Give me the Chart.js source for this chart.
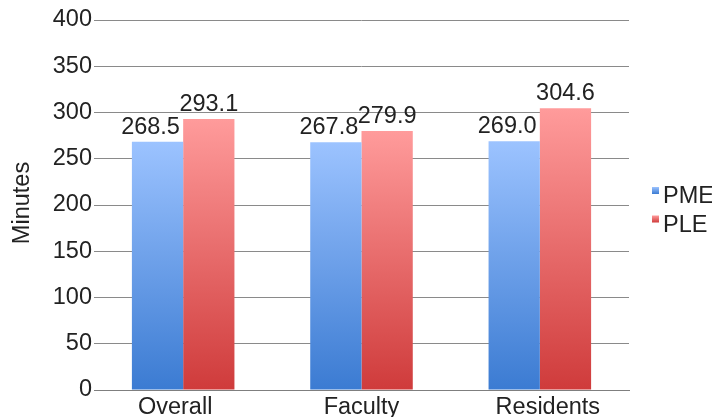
<!DOCTYPE html>
<html>
<head>
<meta charset="utf-8">
<script src="https://cdn.jsdelivr.net/npm/chart.js@4/dist/chart.umd.min.js"></script>
<style>
html,body{margin:0;padding:0;overflow:hidden;background:#fff;}
#wrap{position:relative;width:712px;height:430px;}
</style>
</head>
<body>
<div id="wrap"><canvas id="c"></canvas></div>
<script>
const categories = ['Overall', 'Faculty', 'Residents'];
const pmeValues = [268.5, 267.8, 269.0];
const pleValues = [293.1, 279.9, 304.6];
const seriesNames = ['PME', 'PLE'];
const yTicks = [0, 50, 100, 150, 200, 250, 300, 350, 400];
const yTitle = 'Minutes';

const FONT = "'Liberation Sans', Arial, sans-serif";
const FSIZE = 23.5;
const TXT = '#222';
const BLUE = ['#9cc3ff', '#3b7bd2'];
const RED = ['#ff9b9b', '#cf3b3b'];

function gradientFill(cols) {
  return function(ctx) {
    const chart = ctx.chart;
    if (!chart.chartArea || ctx.type !== 'data') return cols[0];
    const y = chart.scales.y;
    const y0 = y.getPixelForValue(0);
    const y1 = y.getPixelForValue(ctx.raw);
    if (!isFinite(y0) || !isFinite(y1) || y0 === y1) return cols[0];
    const g = chart.ctx.createLinearGradient(0, y1, 0, y0);
    g.addColorStop(0, cols[0]);
    g.addColorStop(1, cols[1]);
    return g;
  };
}

const extras = {
  id: 'extras',
  afterDatasetsDraw(chart) {
    const ctx = chart.ctx;
    ctx.save();
    ctx.font = FSIZE + 'px ' + FONT;
    ctx.fillStyle = TXT;
    ctx.textAlign = 'center';
    ctx.textBaseline = 'alphabetic';
    chart.data.datasets.forEach((ds, di) => {
      const meta = chart.getDatasetMeta(di);
      meta.data.forEach((el, i) => {
        const shift = di === 0 ? -7 : 0;
        ctx.fillText(ds.data[i].toFixed(1), el.x + shift, el.y - 8);
      });
    });
    ctx.restore();
  },
  afterDraw(chart) {
    const ctx = chart.ctx;
    const area = chart.chartArea;
    const xs = chart.scales.x;
    // category labels (spread slightly wider than the bar groups, as in the reference)
    ctx.save();
    ctx.font = FSIZE + 'px ' + FONT;
    ctx.fillStyle = TXT;
    ctx.textAlign = 'center';
    ctx.textBaseline = 'top';
    const mid = (area.left + area.right) / 2;
    categories.forEach((c, i) => {
      const p = xs.getPixelForValue(i);
      ctx.fillText(c, mid + (p - mid) * 1.045, area.bottom + 6);
    });
    ctx.restore();
    // y axis title
    ctx.save();
    ctx.font = FSIZE + 'px ' + FONT;
    ctx.fillStyle = TXT;
    ctx.textAlign = 'center';
    ctx.textBaseline = 'middle';
    ctx.translate(23, (area.top + area.bottom) / 2 - 2);
    ctx.rotate(-Math.PI / 2);
    ctx.fillText(yTitle, 0, 0);
    ctx.restore();
    // legend
    ctx.save();
    ctx.font = FSIZE + 'px ' + FONT;
    ctx.textAlign = 'left';
    ctx.textBaseline = 'alphabetic';
    const cols = [BLUE, RED];
    const legX = area.right + 23;
    const legY0 = 203;
    const step = 28.5;
    chart.data.datasets.forEach((ds, i) => {
      const base = legY0 + i * step;
      const mt = base - 16;
      const g = ctx.createLinearGradient(0, mt, 0, mt + 7);
      g.addColorStop(0, cols[i][0]);
      g.addColorStop(1, cols[i][1]);
      ctx.fillStyle = g;
      ctx.fillRect(legX, mt, 7, 7);
      ctx.fillStyle = TXT;
      ctx.fillText(ds.label, legX + 11, base);
    });
    ctx.restore();
  }
};

new Chart(document.getElementById('c'), {
  type: 'bar',
  data: {
    labels: categories,
    datasets: [
      { label: seriesNames[0], data: pmeValues, backgroundColor: gradientFill(BLUE), borderWidth: 0 },
      { label: seriesNames[1], data: pleValues, backgroundColor: gradientFill(RED), borderWidth: 0 }
    ]
  },
  options: {
    responsive: true,
    maintainAspectRatio: false,
    animation: false,
    layout: { padding: { top: 20, right: 83, bottom: 0, left: 0 } },
    datasets: { bar: { categoryPercentage: 0.575, barPercentage: 1.0 } },
    plugins: {
      legend: { display: false },
      tooltip: { enabled: false }
    },
    scales: {
      x: {
        grid: { display: false, drawTicks: false },
        border: { display: true, color: '#7f7f7f', width: 1 },
        ticks: { display: false },
        afterFit(s) { s.height = 40; }
      },
      y: {
        min: 0, max: 400,
        afterBuildTicks(s) { s.ticks = yTicks.map(v => ({ value: v })); },
        grid: { color: '#8a8a8a', lineWidth: 1, drawTicks: false },
        border: { display: false },
        ticks: { color: TXT, font: { family: FONT, size: FSIZE }, padding: 2 },
        afterFit(s) { s.width = 94; }
      }
    }
  },
  plugins: [extras]
});
</script>
</body>
</html>
